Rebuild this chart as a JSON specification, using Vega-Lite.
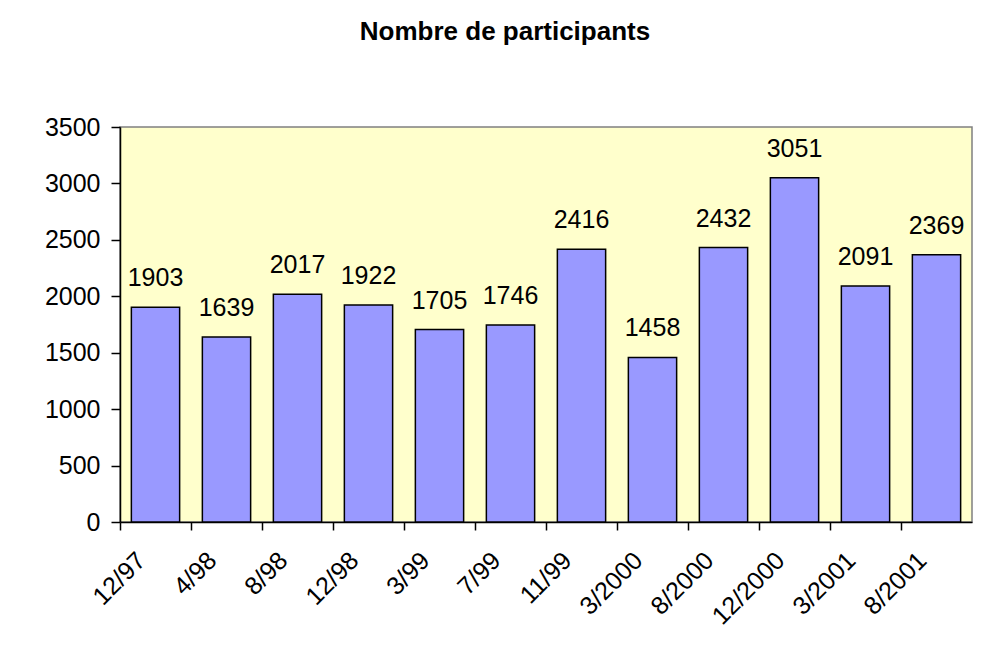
{
  "$schema": "https://vega.github.io/schema/vega-lite/v6.json",
  "width": 852,
  "height": 395,
  "autosize": "none",
  "padding": {"left": 120, "top": 127, "right": 16, "bottom": 139},
  "background": "white",
  "title": {
    "text": "Nombre de participants",
    "font": "Liberation Sans",
    "fontSize": 26,
    "fontWeight": "bold",
    "color": "black",
    "anchor": "middle",
    "frame": "group",
    "baseline": "alphabetic",
    "offset": 49,
    "dx": -41
  },
  "data": {
    "values": [
      {"date": "12/97", "n": 1903},
      {"date": "4/98", "n": 1639},
      {"date": "8/98", "n": 2017},
      {"date": "12/98", "n": 1922},
      {"date": "3/99", "n": 1705},
      {"date": "7/99", "n": 1746},
      {"date": "11/99", "n": 2416},
      {"date": "3/2000", "n": 1458},
      {"date": "8/2000", "n": 2432},
      {"date": "12/2000", "n": 3051},
      {"date": "3/2001", "n": 2091},
      {"date": "8/2001", "n": 2369}
    ]
  },
  "encoding": {
    "x": {
      "field": "date",
      "type": "nominal",
      "sort": null,
      "scale": {"paddingInner": 0, "paddingOuter": 0},
      "axis": {
        "title": null,
        "bandPosition": 0,
        "labelAngle": -45,
        "labelAlign": "right",
        "labelBaseline": "middle",
        "labelOffset": -14,
        "labelPadding": 26,
        "labelFont": "Liberation Sans",
        "labelFontSize": 25,
        "labelColor": "black",
        "tickSize": 8,
        "tickColor": "black",
        "tickWidth": 1.5,
        "domainColor": "black",
        "domainWidth": 1.5,
        "grid": false
      }
    },
    "y": {
      "field": "n",
      "type": "quantitative",
      "scale": {"domain": [0, 3500], "nice": false},
      "axis": {
        "title": null,
        "format": "d",
        "values": [0, 500, 1000, 1500, 2000, 2500, 3000, 3500],
        "labelFont": "Liberation Sans",
        "labelFontSize": 25,
        "labelColor": "black",
        "labelPadding": 11,
        "tickSize": 9,
        "tickColor": "black",
        "tickWidth": 1.5,
        "domainColor": "black",
        "domainWidth": 1.5,
        "grid": false
      }
    }
  },
  "layer": [
    {
      "mark": {
        "type": "bar",
        "width": {"band": 0.68},
        "fill": "#9999FF",
        "stroke": "black",
        "strokeWidth": 1.5
      }
    },
    {
      "mark": {
        "type": "text",
        "baseline": "alphabetic",
        "dy": -21,
        "font": "Liberation Sans",
        "fontSize": 25,
        "color": "black"
      },
      "encoding": {"text": {"field": "n", "type": "quantitative"}}
    }
  ],
  "config": {
    "view": {"fill": "#FFFFCC", "stroke": "#808080", "strokeWidth": 1.5}
  }
}
